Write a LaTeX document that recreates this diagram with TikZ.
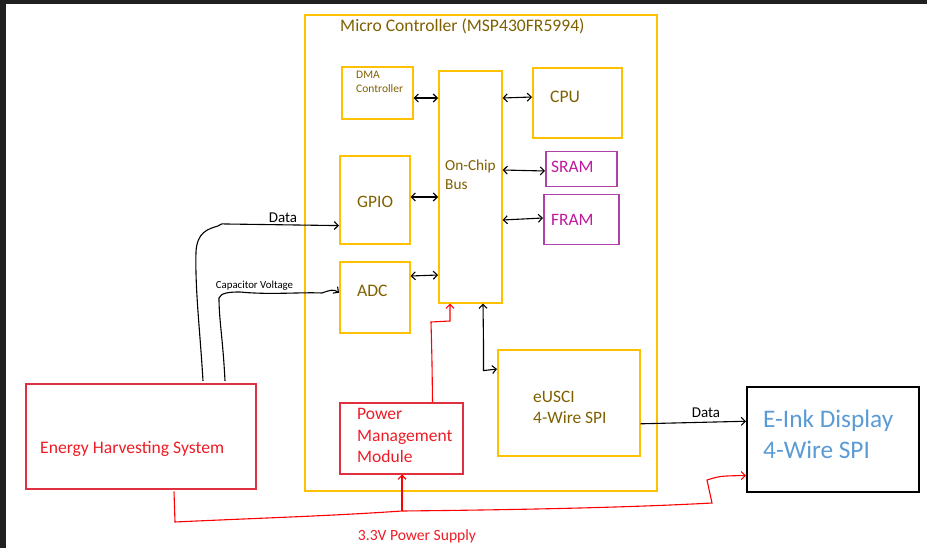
\documentclass[tikz,border=0pt]{standalone}
\usepackage{fontspec}
\setmainfont{Carlito}
\usetikzlibrary{calc, positioning, arrows.meta}
\definecolor{mcyellow}{HTML}{FFC000}
\definecolor{mctext}{HTML}{7F6000}
\definecolor{pwbox}{HTML}{E03040}
\definecolor{pwtext}{HTML}{EE1C25}
\definecolor{membox}{HTML}{B040A8}
\definecolor{memtext}{HTML}{C0189C}
\definecolor{einkblue}{HTML}{5B9BD5}
\definecolor{darkbg}{HTML}{202020}

\begin{document}
\begin{tikzpicture}[x=1pt, y=-1pt, >={Straight Barb[length=4pt,width=8pt]},
  blk/.style={draw=mcyellow, line width=1.6pt, inner sep=0pt, anchor=north west},
  memblk/.style={draw=membox, line width=1.5pt, inner sep=0pt, anchor=north west},
  pwblk/.style={draw=pwbox, line width=1.5pt, inner sep=0pt, anchor=north west},
  lbl/.style={anchor=west, inner sep=0pt, align=left},
  wire/.style={black, line width=1.1pt},
  pwr/.style={red, line width=1.1pt}]
  \useasboundingbox (0,0) rectangle (927,548);
  % bordo scuro
  \fill[darkbg] (0,0) rectangle (6,548);
  \fill[darkbg] (0,0) rectangle (927,4);

  % micro controller
  \node[blk, minimum width=352pt, minimum height=476pt] (mcu) at (304,14) {};
  \node[lbl, text=mctext, font=\fontsize{17.6}{20}\selectfont] (mcutitle) at (340,26) {Micro Controller (MSP430FR5994)};

  \node[blk, minimum width=71pt, minimum height=52pt] (dma) at (341,66) {};
  \node[lbl, text=mctext, font=\fontsize{11.5}{14}\selectfont] (dmatxt) at (356,82) {DMA\\Controller};
  \node[blk, minimum width=63pt, minimum height=232pt] (bus) at (438,70) {};
  \node[lbl, text=mctext, font=\fontsize{15.3}{19}\selectfont] (bustxt) at (445,174.5) {On-Chip\\Bus};
  \node[blk, minimum width=89pt, minimum height=70pt] (cpu) at (532,67) {};
  \node[lbl, text=mctext, font=\fontsize{17.6}{20}\selectfont] (cputxt) at (550,97) {CPU};
  \node[memblk, minimum width=71pt, minimum height=35pt] (sram) at (545,151) {};
  \node[lbl, text=memtext, font=\fontsize{17.4}{20}\selectfont] (sramtxt) at (551,167) {SRAM};
  \node[memblk, minimum width=75pt, minimum height=50pt] (fram) at (543,194) {};
  \node[lbl, text=memtext, font=\fontsize{17.4}{20}\selectfont] (framtxt) at (551,220) {FRAM};
  \node[blk, minimum width=70pt, minimum height=88pt] (gpio) at (339,155) {};
  \node[lbl, text=mctext, font=\fontsize{17.4}{20}\selectfont] (gpiotxt) at (357,202) {GPIO};
  \node[blk, minimum width=70pt, minimum height=71pt] (adc) at (339,261) {};
  \node[lbl, text=mctext, font=\fontsize{17.6}{20}\selectfont] (adctxt) at (357,291) {ADC};
  \node[blk, minimum width=142pt, minimum height=106pt] (eusci) at (497,349) {};
  \node[lbl, text=mctext, font=\fontsize{17.4}{21}\selectfont] (euscitxt) at (533,407.5) {eUSCI\\4-Wire SPI};
  \node[pwblk, minimum width=123pt, minimum height=71pt] (pmm) at (339,402) {};
  \node[lbl, text=pwtext, font=\fontsize{17.5}{21.5}\selectfont] (pmmtxt) at (357,435.5) {Power\\Management\\Module};

  % blocchi esterni
  \node[pwblk, minimum width=230pt, minimum height=105pt] (ehs) at (25,383) {};
  \node[lbl, text=pwtext, font=\fontsize{17.6}{20}\selectfont] (ehstxt) at (40,449) {Energy Harvesting System};
  \node[draw=black, line width=1.5pt, inner sep=0pt, anchor=north west, minimum width=172pt, minimum height=105pt] (eink) at (746,386) {};
  \node[lbl, text=einkblue, font=\fontsize{25.3}{31}\selectfont] (einktxt) at (763,434.5) {E-Ink Display\\4-Wire SPI};

  % bus
  \draw[wire,<->] (dma.east |- 0,98) -- (bus.west |- 0,98);
  \draw[wire,<->] (bus.east |- 0,98) -- (cpu.west |- 0,97);
  \draw[wire,<->] (bus.east |- 0,170) -- (sram.west |- 0,171);
  \draw[wire,<->] (bus.east |- 0,220) -- (fram.west |- 0,218);
  \draw[wire,<->] (gpio.east |- 0,197) -- (bus.west |- 0,197);
  \draw[wire,<->] (adc.east |- 0,276) -- (bus.west |- 0,275);
  \draw[wire,<->] ([xshift=45pt]bus.south west) -- ++(0.5,40) -- ++(0,27) -- ([yshift=-20pt]eusci.north west);

  % segnali
  \draw[wire,->] ([xshift=178pt,yshift=2pt]ehs.north west) .. controls (200,330) and (195,290) .. (196,252)
    .. controls (197,232) and (208,229) .. (218,226) .. controls (221,224) and (223,223) .. (226,224)
    -- ($(gpio.south west)+(0,-19)$);
  \node[inner sep=0pt, font=\fontsize{15}{17}\selectfont] (datagpio) at (283,218) {Data};
  \draw[wire,->] ([xshift=200pt,yshift=2pt]ehs.north west) .. controls (223,340) and (219,320) .. (219,298)
    .. controls (221,293) and (228,292) .. (240,292) .. controls (270,295) and (300,292) .. (322,293)
    .. controls (330,290) and (334,289) .. ($(adc.west)+(0,-4.5)$);
  \node[inner sep=0pt, font=\fontsize{10.8}{13}\selectfont] (captxt) at (254.5,286) {Capacitor Voltage};
  \draw[wire,->] ([yshift=-21pt]eusci.east) -- ([yshift=18pt]eink.west);
  \node[inner sep=0pt, font=\fontsize{15}{17}\selectfont] (dataeink) at (706,413) {Data};

  % alimentazione
  \draw[pwr,->] ([xshift=-31pt]pmm.north east) .. controls (432,360) .. (431,322) -- (450,321) -- ([xshift=12pt]bus.south west);
  \draw[pwr,->] ([xshift=149pt,yshift=-2pt]ehs.south west) -- (175,522) .. controls (260,518) and (330,516) .. (402,511)
    .. controls (500,510) and (620,508) .. (712,503) -- (707,480) .. controls (720,476) .. ([yshift=17pt]eink.south west);
  \draw[pwr,->] (402,511) -- ([xshift=63pt]pmm.south west);
  \node[inner sep=0pt, text=pwtext, font=\fontsize{15.6}{18}\selectfont] (pwrtxt) at (417,536) {3.3V Power Supply};
\end{tikzpicture}
\end{document}
